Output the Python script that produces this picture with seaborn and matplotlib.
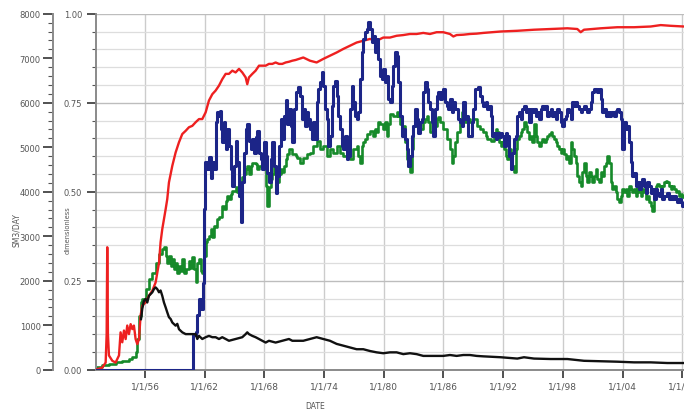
import matplotlib
matplotlib.use("Agg")
import matplotlib.pyplot as plt
import seaborn as sns
import numpy as np
from matplotlib.ticker import MultipleLocator, FixedLocator, FixedFormatter

# ---------------- data ----------------
red_x = [1951.04, 1951.71, 1952.05, 1952.15, 1952.21, 1952.28, 1952.38, 1952.72, 1953.05, 1953.39,
         1953.55, 1953.72, 1953.89, 1954.06, 1954.22, 1954.39, 1954.56, 1954.73, 1954.89, 1955.06,
         1955.23, 1955.40, 1955.56, 1955.73, 1956.07, 1956.40, 1956.74, 1957.07, 1957.41, 1957.57,
         1957.74, 1958.08, 1958.24, 1958.41, 1958.75, 1959.08, 1959.42, 1959.75, 1960.09, 1960.42,
         1960.76, 1961.09, 1961.43, 1961.76, 1962.10, 1962.43, 1962.77, 1963.10, 1963.44, 1963.77,
         1964.11, 1964.44, 1964.78, 1965.11, 1965.45, 1965.78, 1966.12, 1966.28, 1966.45, 1966.79,
         1967.12, 1967.46, 1967.79, 1968.13, 1968.46, 1968.80, 1969.13, 1969.47, 1969.80, 1970.14,
         1970.47, 1970.81, 1971.14, 1971.91, 1972.58, 1973.25, 1973.92, 1974.59, 1975.26, 1975.93,
         1976.60, 1977.27, 1977.94, 1978.61, 1979.28, 1979.95, 1980.62, 1981.29, 1981.96, 1982.63,
         1983.30, 1983.97, 1984.64, 1985.31, 1985.98, 1986.65, 1986.99, 1987.32, 1987.99, 1988.66,
         1989.33, 1990.00, 1991.75, 1993.42, 1995.10, 1996.77, 1998.45, 1999.45, 1999.79, 2000.12,
         2001.80, 2003.47, 2005.15, 2006.82, 2007.83, 2008.83, 2010.17]
red_y = [0.000, 0.006, 0.020, 0.100, 0.344, 0.100, 0.040, 0.025, 0.020, 0.040,
         0.105, 0.077, 0.110, 0.086, 0.124, 0.100, 0.128, 0.114, 0.124, 0.086,
         0.072, 0.086, 0.152, 0.180, 0.189, 0.208, 0.222, 0.245, 0.300, 0.358,
         0.395, 0.451, 0.479, 0.526, 0.573, 0.610, 0.639, 0.662, 0.671, 0.681,
         0.685, 0.695, 0.704, 0.704, 0.723, 0.756, 0.774, 0.784, 0.798, 0.816,
         0.831, 0.831, 0.840, 0.835, 0.845, 0.835, 0.821, 0.802, 0.821, 0.831,
         0.840, 0.854, 0.854, 0.854, 0.859, 0.859, 0.863, 0.859, 0.859, 0.863,
         0.865, 0.868, 0.870, 0.877, 0.868, 0.863, 0.873, 0.882, 0.891, 0.901,
         0.910, 0.919, 0.924, 0.929, 0.924, 0.933, 0.933, 0.938, 0.940, 0.943,
         0.943, 0.946, 0.943, 0.948, 0.948, 0.943, 0.936, 0.940, 0.941, 0.943,
         0.944, 0.946, 0.950, 0.952, 0.955, 0.957, 0.959, 0.957, 0.948, 0.955,
         0.959, 0.962, 0.962, 0.964, 0.968, 0.966, 0.964]

green_x = [1951.04, 1951.71, 1952.38, 1953.05, 1953.72, 1954.39, 1954.73, 1955.06, 1955.23, 1955.40,
           1955.56, 1955.73, 1956.07, 1956.40, 1956.74, 1957.07, 1957.41, 1957.74, 1957.91, 1958.08,
           1958.24, 1958.41, 1958.58, 1958.75, 1958.91, 1959.08, 1959.25, 1959.42, 1959.58, 1959.75,
           1959.92, 1960.09, 1960.42, 1960.59, 1960.76, 1960.92, 1961.09, 1961.26, 1961.43, 1961.59,
           1961.76, 1961.93, 1962.10, 1962.26, 1962.43, 1962.60, 1962.77, 1962.93, 1963.10, 1963.27,
           1963.44, 1963.77, 1963.94, 1964.11, 1964.27, 1964.44, 1964.61, 1964.78, 1965.11, 1965.28,
           1965.45, 1965.78, 1965.95, 1966.12, 1966.28, 1966.45, 1966.62, 1966.79, 1967.12, 1967.29,
           1967.46, 1967.79, 1967.96, 1968.13, 1968.29, 1968.46, 1968.63, 1968.80, 1968.96, 1969.13,
           1969.30, 1969.47, 1969.63, 1969.80, 1969.97, 1970.14, 1970.30, 1970.47, 1970.81, 1971.14,
           1971.24, 1971.58, 1971.91, 1972.25, 1972.58, 1972.92, 1973.25, 1973.59, 1973.92, 1974.26,
           1974.59, 1974.93, 1975.26, 1975.60, 1975.93, 1976.27, 1976.60, 1976.94, 1977.27, 1977.44,
           1977.61, 1977.77, 1977.94, 1978.11, 1978.28, 1978.61, 1978.95, 1979.11, 1979.28, 1979.45,
           1979.62, 1979.95, 1980.12, 1980.29, 1980.45, 1980.62, 1980.96, 1981.29, 1981.46, 1981.63,
           1981.79, 1981.96, 1982.13, 1982.30, 1982.46, 1982.63, 1982.80, 1982.97, 1983.30, 1983.64,
           1983.97, 1984.14, 1984.31, 1984.47, 1984.64, 1984.98, 1985.31, 1985.48, 1985.65, 1985.98,
           1986.32, 1986.65, 1986.82, 1986.99, 1987.15, 1987.32, 1987.66, 1987.82, 1987.99, 1988.16,
           1988.33, 1988.66, 1989.00, 1989.33, 1989.67, 1990.00, 1990.24, 1990.41, 1990.74, 1991.08,
           1991.24, 1991.41, 1991.58, 1991.75, 1991.91, 1992.08, 1992.25, 1992.42, 1992.58, 1992.75,
           1992.92, 1993.09, 1993.25, 1993.42, 1993.59, 1993.76, 1993.92, 1994.09, 1994.26, 1994.43,
           1994.59, 1994.76, 1994.93, 1995.10, 1995.26, 1995.43, 1995.60, 1995.77, 1995.93, 1996.10,
           1996.27, 1996.44, 1996.60, 1996.77, 1996.94, 1997.11, 1997.27, 1997.44, 1997.61, 1997.78,
           1997.94, 1998.11, 1998.28, 1998.45, 1998.61, 1998.78, 1998.95, 1999.12, 1999.28, 1999.45,
           1999.62, 1999.79, 1999.95, 2000.12, 2000.29, 2000.46, 2000.62, 2000.79, 2000.96, 2001.13,
           2001.29, 2001.46, 2001.63, 2001.80, 2001.96, 2002.13, 2002.30, 2002.47, 2002.63, 2002.80,
           2002.97, 2003.14, 2003.30, 2003.47, 2003.64, 2003.81, 2003.97, 2004.14, 2004.31, 2004.48,
           2004.64, 2004.81, 2004.98, 2005.15, 2005.31, 2005.48, 2005.65, 2005.82, 2005.98, 2006.15,
           2006.32, 2006.49, 2006.65, 2006.82, 2006.99, 2007.16, 2007.32, 2007.49, 2007.66, 2007.83,
           2007.99, 2008.16, 2008.33, 2008.50, 2008.66, 2008.83, 2009.00, 2009.17, 2009.33, 2009.50,
           2009.67, 2009.84, 2010.00, 2010.17]
green_y = [0.007, 0.013, 0.016, 0.021, 0.025, 0.030, 0.035, 0.049, 0.086, 0.152,
           0.189, 0.198, 0.227, 0.255, 0.273, 0.301, 0.325, 0.339, 0.344, 0.320,
           0.301, 0.320, 0.292, 0.311, 0.283, 0.301, 0.273, 0.292, 0.278, 0.311,
           0.273, 0.283, 0.306, 0.287, 0.316, 0.283, 0.245, 0.301, 0.311, 0.278,
           0.273, 0.320, 0.358, 0.367, 0.376, 0.395, 0.372, 0.405, 0.400, 0.423,
           0.428, 0.461, 0.451, 0.475, 0.489, 0.479, 0.494, 0.503, 0.512, 0.498,
           0.526, 0.540, 0.550, 0.564, 0.573, 0.550, 0.573, 0.582, 0.578, 0.564,
           0.573, 0.582, 0.573, 0.517, 0.461, 0.512, 0.536, 0.550, 0.573, 0.559,
           0.526, 0.550, 0.564, 0.554, 0.573, 0.592, 0.606, 0.620, 0.606, 0.601,
           0.596, 0.582, 0.596, 0.606, 0.610, 0.629, 0.643, 0.620, 0.629, 0.601,
           0.620, 0.610, 0.629, 0.610, 0.601, 0.610, 0.592, 0.620, 0.629, 0.601,
           0.582, 0.629, 0.639, 0.648, 0.662, 0.671, 0.657, 0.676, 0.667, 0.695,
           0.690, 0.676, 0.695, 0.657, 0.690, 0.718, 0.713, 0.723, 0.713, 0.690,
           0.667, 0.685, 0.639, 0.592, 0.573, 0.554, 0.620, 0.685, 0.695, 0.676,
           0.695, 0.704, 0.713, 0.695, 0.667, 0.685, 0.704, 0.709, 0.695, 0.676,
           0.648, 0.620, 0.582, 0.601, 0.639, 0.667, 0.695, 0.723, 0.713, 0.695,
           0.704, 0.695, 0.704, 0.685, 0.676, 0.667, 0.657, 0.648, 0.643, 0.657,
           0.676, 0.667, 0.639, 0.629, 0.639, 0.620, 0.601, 0.592, 0.620, 0.601,
           0.573, 0.554, 0.620, 0.648, 0.657, 0.667, 0.676, 0.695, 0.685, 0.667,
           0.648, 0.657, 0.639, 0.690, 0.657, 0.639, 0.629, 0.639, 0.648, 0.639,
           0.648, 0.657, 0.662, 0.667, 0.657, 0.648, 0.639, 0.629, 0.620, 0.610,
           0.620, 0.606, 0.592, 0.601, 0.582, 0.639, 0.620, 0.601, 0.582, 0.545,
           0.526, 0.517, 0.554, 0.582, 0.545, 0.526, 0.554, 0.545, 0.526, 0.545,
           0.564, 0.536, 0.526, 0.554, 0.545, 0.573, 0.582, 0.601, 0.582, 0.526,
           0.507, 0.517, 0.498, 0.479, 0.470, 0.489, 0.507, 0.498, 0.507, 0.489,
           0.517, 0.507, 0.498, 0.507, 0.489, 0.507, 0.498, 0.489, 0.507, 0.498,
           0.479, 0.489, 0.470, 0.461, 0.447, 0.498, 0.517, 0.522, 0.517, 0.507,
           0.517, 0.526, 0.531, 0.526, 0.517, 0.507, 0.517, 0.507, 0.498, 0.503,
           0.489, 0.494, 0.484, 0.489]

blue_x = [1951.04, 1960.76, 1960.80, 1961.09, 1961.26, 1961.43, 1961.59, 1961.66, 1961.80, 1961.93,
          1962.00, 1962.26, 1962.43, 1962.60, 1962.77, 1962.93, 1963.10, 1963.27, 1963.44, 1963.50,
          1963.60, 1963.77, 1963.94, 1964.04, 1964.17, 1964.27, 1964.44, 1964.61, 1964.78, 1964.94,
          1965.11, 1965.28, 1965.45, 1965.61, 1965.78, 1965.95, 1966.12, 1966.28, 1966.45, 1966.62,
          1966.79, 1966.95, 1967.12, 1967.29, 1967.46, 1967.62, 1967.79, 1967.96, 1968.13, 1968.29,
          1968.46, 1968.63, 1968.80, 1968.96, 1969.13, 1969.30, 1969.47, 1969.63, 1969.80, 1969.97,
          1970.14, 1970.30, 1970.47, 1970.64, 1970.81, 1970.97, 1971.14, 1971.24, 1971.41, 1971.58,
          1971.74, 1971.91, 1972.08, 1972.25, 1972.41, 1972.58, 1972.75, 1972.92, 1973.08, 1973.25,
          1973.42, 1973.59, 1973.75, 1973.92, 1974.09, 1974.26, 1974.42, 1974.59, 1974.76, 1974.93,
          1975.09, 1975.26, 1975.43, 1975.60, 1975.76, 1975.93, 1976.10, 1976.27, 1976.43, 1976.60,
          1976.77, 1976.94, 1977.10, 1977.27, 1977.44, 1977.61, 1977.77, 1977.94, 1978.11, 1978.28,
          1978.44, 1978.61, 1978.78, 1978.95, 1979.11, 1979.28, 1979.45, 1979.62, 1979.78, 1979.95,
          1980.12, 1980.29, 1980.45, 1980.62, 1980.79, 1980.96, 1981.12, 1981.29, 1981.46, 1981.63,
          1981.79, 1981.96, 1982.13, 1982.30, 1982.46, 1982.63, 1982.80, 1982.97, 1983.13, 1983.30,
          1983.47, 1983.64, 1983.80, 1983.97, 1984.14, 1984.31, 1984.47, 1984.64, 1984.81, 1984.98,
          1985.14, 1985.31, 1985.48, 1985.65, 1985.81, 1985.98, 1986.15, 1986.32, 1986.48, 1986.65,
          1986.82, 1986.99, 1987.15, 1987.32, 1987.49, 1987.66, 1987.82, 1987.99, 1988.16, 1988.33,
          1988.49, 1988.66, 1988.83, 1989.00, 1989.16, 1989.33, 1989.50, 1989.67, 1989.83, 1990.00,
          1990.24, 1990.41, 1990.57, 1990.74, 1990.91, 1991.08, 1991.24, 1991.41, 1991.58, 1991.75,
          1991.91, 1992.08, 1992.25, 1992.42, 1992.58, 1992.75, 1992.92, 1993.09, 1993.25, 1993.42,
          1993.59, 1993.76, 1993.92, 1994.09, 1994.26, 1994.43, 1994.59, 1994.76, 1994.93, 1995.10,
          1995.26, 1995.43, 1995.60, 1995.77, 1995.93, 1996.10, 1996.27, 1996.44, 1996.60, 1996.77,
          1996.94, 1997.11, 1997.27, 1997.44, 1997.61, 1997.78, 1997.94, 1998.11, 1998.28, 1998.45,
          1998.61, 1998.78, 1998.95, 1999.12, 1999.28, 1999.45, 1999.62, 1999.79, 1999.95, 2000.12,
          2000.29, 2000.46, 2000.62, 2000.79, 2000.96, 2001.13, 2001.29, 2001.46, 2001.63, 2001.80,
          2001.96, 2002.13, 2002.30, 2002.47, 2002.63, 2002.80, 2002.97, 2003.14, 2003.30, 2003.47,
          2003.64, 2003.81, 2003.97, 2004.14, 2004.31, 2004.48, 2004.64, 2004.81, 2004.98, 2005.15,
          2005.31, 2005.48, 2005.65, 2005.82, 2005.98, 2006.15, 2006.32, 2006.49, 2006.65, 2006.82,
          2006.99, 2007.16, 2007.32, 2007.49, 2007.66, 2007.83, 2007.99, 2008.16, 2008.33, 2008.50,
          2008.66, 2008.83, 2009.00, 2009.17, 2009.33, 2009.50, 2009.67, 2009.84, 2010.00, 2010.17]
blue_y = [0, 0, 770, 840, 1220, 1590, 1510, 1360, 1950, 3610,
          4660, 4510, 4780, 4300, 4660, 4510, 5560, 5780, 5710, 5820,
          5420, 5120, 5560, 5340, 4960, 5410, 5030, 4510, 4130, 4580,
          5140, 4660, 3910, 3310, 4210, 4880, 5410, 5520, 5140, 4960,
          5180, 4880, 5220, 5370, 4880, 4730, 4510, 5110, 4810, 4430,
          4210, 4730, 5110, 4580, 3980, 4360, 5030, 5630, 5180, 5710,
          6050, 5520, 5860, 5480, 5110, 5860, 6230, 6230, 6350, 6160,
          5630, 5860, 5480, 5780, 5630, 5410, 5180, 5560, 5180, 6010,
          6310, 6460, 6680, 6380, 5860, 5630, 5030, 5260, 5930, 6380,
          6490, 6160, 5710, 5410, 5030, 4960, 5260, 4730, 4810, 5860,
          6380, 6010, 5710, 5630, 5780, 6530, 7130, 7430, 7580, 7660,
          7810, 7660, 7360, 7510, 7130, 7430, 6980, 6610, 6530, 6760,
          6460, 6610, 6080, 6010, 6380, 6830, 7130, 7060, 6460, 5710,
          5260, 5410, 5180, 4960, 4580, 4810, 5260, 5480, 5860, 5630,
          5330, 5560, 5630, 6230, 6460, 6310, 6010, 5860, 5560, 5260,
          5860, 6160, 6230, 6080, 6230, 6310, 6010, 5930, 5860, 6080,
          5780, 6010, 5860, 5860, 5630, 5560, 5480, 6010, 5630, 5710,
          5260, 5260, 5560, 5860, 6310, 6310, 6350, 6160, 6010, 5930,
          6010, 5860, 5930, 5710, 5260, 5330, 5180, 5330, 5220, 5330,
          5260, 5030, 5330, 5260, 4810, 4510, 4880, 5180, 5260, 5710,
          5780, 5630, 5860, 5930, 5780, 5860, 5560, 5860, 5780, 5860,
          5710, 5780, 5630, 5860, 5930, 5860, 5930, 5710, 5780, 5860,
          5710, 5780, 5630, 5860, 5780, 5560, 5480, 5630, 5710, 5860,
          5780, 5630, 6010, 5930, 6010, 5930, 5860, 5780, 5860, 5930,
          5860, 5780, 5860, 6010, 6230, 6310, 6310, 6230, 6310, 6080,
          5780, 5860, 5710, 5780, 5710, 5780, 5780, 5710, 5820, 5860,
          5780, 5630, 4960, 5560, 5410, 5480, 5110, 4660, 4360, 4430,
          4130, 4210, 4060, 4210, 4280, 4130, 3980, 4210, 4130, 3980,
          4060, 3830, 4060, 3980, 3910, 4060, 3830, 3910, 3910, 3980,
          3830, 3910, 3830, 3910, 3830, 3760, 3830, 3760, 3680, 3720]

black_x = [1955.60, 1955.73, 1955.90, 1956.07, 1956.23, 1956.40, 1956.57, 1956.74, 1956.90, 1957.07,
           1957.24, 1957.41, 1957.57, 1957.74, 1957.91, 1958.08, 1958.24, 1958.41, 1958.58, 1958.75,
           1959.08, 1959.25, 1959.42, 1959.75, 1960.09, 1960.42, 1960.76, 1961.09, 1961.26, 1961.43,
           1961.76, 1962.10, 1962.43, 1962.77, 1963.10, 1963.44, 1963.77, 1964.11, 1964.44, 1965.11,
           1965.78, 1966.12, 1966.28, 1966.45, 1966.79, 1967.12, 1967.46, 1967.79, 1968.13, 1968.46,
           1969.13, 1969.80, 1970.47, 1970.81, 1971.14, 1971.91, 1972.58, 1973.25, 1973.59, 1973.92,
           1974.59, 1975.26, 1975.93, 1976.60, 1977.27, 1977.94, 1978.61, 1979.28, 1979.95, 1980.62,
           1981.29, 1981.96, 1982.63, 1983.30, 1983.97, 1984.64, 1985.31, 1985.98, 1986.65, 1987.32,
           1987.99, 1988.66, 1989.33, 1990.00, 1991.75, 1993.42, 1994.09, 1995.10, 1996.77, 1998.45,
           2000.12, 2001.80, 2003.47, 2005.15, 2006.82, 2008.50, 2010.17]
black_y = [1130, 1370, 1550, 1590, 1510, 1660, 1700, 1740, 1810, 1850,
           1810, 1740, 1780, 1660, 1510, 1400, 1290, 1180, 1140, 1060,
           990, 1030, 910, 840, 800, 800, 800, 800, 690, 760,
           690, 730, 760, 730, 730, 690, 730, 690, 650, 690,
           730, 800, 840, 800, 760, 730, 690, 650, 610, 650,
           610, 650, 690, 650, 650, 650, 690, 730, 710, 690,
           650, 580, 540, 500, 460, 460, 420, 390, 370, 390,
           390, 350, 370, 350, 310, 310, 310, 310, 330, 310,
           330, 330, 310, 300, 280, 250, 280, 250, 240, 240,
           200, 190, 180, 165, 165, 150, 150]

date_ticks = [1956, 1962, 1968, 1974, 1980, 1986, 1992, 1998, 2004, 2010]
date_labels = ["1/1/56", "1/1/62", "1/1/68", "1/1/74", "1/1/80", "1/1/86",
               "1/1/92", "1/1/98", "1/1/04", "1/1/10"]
frac_ticks = [0.0, 0.25, 0.5, 0.75, 1.0]
frac_labels = ["0.00", "0.25", "0.50", "0.75", "1.00"]
rate_ticks = [0, 1000, 2000, 3000, 4000, 5000, 6000, 7000, 8000]
rate_labels = ["0", "1000", "2000", "3000", "4000", "5000", "6000", "7000", "8000"]

# ---------------- styling ----------------
sns.set_style("white")
plt.rcParams["font.family"] = ["DejaVu Sans"]
TXT = "#555555"
SP = "#8a8a8a"

fig = plt.figure(figsize=(6.84, 4.10), dpi=100)
W, H = 684.0, 410.0
ax = fig.add_axes([96 / W, (H - 370.7) / H, 588 / W, 356 / H])
axs = ax.twinx()

# dimensionless (main, inner axis)
sns.lineplot(x=red_x, y=red_y, ax=ax, color="#ee2020", linewidth=1.7, estimator=None, sort=False, zorder=3)
sns.lineplot(x=green_x, y=green_y, ax=ax, color="#168a2a", linewidth=1.9, estimator=None, sort=False, zorder=2,
             drawstyle="steps-post")
# rate axis (outer)
sns.lineplot(x=blue_x, y=blue_y, ax=axs, color="#1c2588", linewidth=2.2, estimator=None, sort=False, zorder=2,
             drawstyle="steps-post")
sns.lineplot(x=black_x, y=black_y, ax=axs, color="#111111", linewidth=1.7, estimator=None, sort=False, zorder=3)

ax.set_xlim(1951.08, 2010.17)
ax.set_ylim(0, 1.0)
axs.set_ylim(0, 8000)

# x axis
ax.xaxis.set_major_locator(FixedLocator(date_ticks))
ax.xaxis.set_major_formatter(FixedFormatter(date_labels))
ax.tick_params(axis="x", which="major", direction="out", length=5.8, width=1.2, color="#333333",
               pad=2.5, labelsize=6.5, labelcolor=TXT, bottom=True)

# inner y axis (dimensionless)
ax.yaxis.set_major_locator(FixedLocator(frac_ticks))
ax.yaxis.set_major_formatter(FixedFormatter(frac_labels))
ax.yaxis.set_minor_locator(MultipleLocator(0.05))
ax.tick_params(axis="y", which="major", direction="out", length=6.5, width=1.2, color="#333333",
               pad=3.6, labelsize=6, labelcolor=TXT, left=True)
ax.tick_params(axis="y", which="minor", direction="out", length=3, width=0.8, color="#555555", left=True)

# grid
ax.grid(True, axis="x", which="major", color="#cccccc", linewidth=1.0)
ax.grid(True, axis="y", which="major", color="#bdbdbd", linewidth=1.0)
ax.grid(True, axis="y", which="minor", color="#dddddd", linewidth=0.9)
ax.set_axisbelow(True)

# outer y axis (rate)
axs.yaxis.tick_left()
axs.yaxis.set_label_position("left")
axs.spines["left"].set_visible(True)
axs.spines["left"].set_position(("outward", 31))
axs.yaxis.set_major_locator(FixedLocator(rate_ticks))
axs.yaxis.set_major_formatter(FixedFormatter(rate_labels))
axs.yaxis.set_minor_locator(MultipleLocator(200))
axs.tick_params(axis="y", which="major", direction="out", length=7.2, width=1.2, color="#333333",
                pad=1.5, labelsize=6, labelcolor=TXT, left=True, right=False)
axs.tick_params(axis="y", which="minor", direction="out", length=3.6, width=0.8, color="#555555",
                left=True, right=False)
axs.grid(False)

for a in (ax, axs):
    a.spines["top"].set_visible(False)
    a.spines["right"].set_visible(False)
ax.spines["left"].set_color(SP)
ax.spines["left"].set_linewidth(1.4)
ax.spines["bottom"].set_color(SP)
ax.spines["bottom"].set_linewidth(1.4)
axs.spines["left"].set_color(SP)
axs.spines["left"].set_linewidth(1.4)
axs.spines["bottom"].set_visible(False)

# labels
ax.set_xlabel("DATE", fontsize=5.5, color=TXT)
ax.xaxis.set_label_coords(0.372, -0.088)
ax.set_ylabel("dimensionless", fontsize=4.8, color=TXT)
ax.yaxis.set_label_coords(-0.044, 0.395)
axs.set_ylabel("SM3/DAY", fontsize=5.5, color=TXT)
axs.yaxis.set_label_coords(-0.127, 0.395)

fig.savefig("out.png", dpi=100)
